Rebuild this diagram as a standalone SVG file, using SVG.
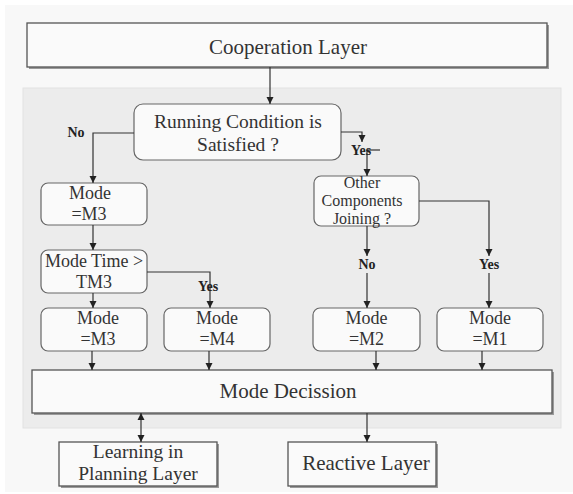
<svg xmlns="http://www.w3.org/2000/svg" width="573" height="494" viewBox="0 0 573 494">
<defs>
<marker id="ah" markerWidth="8" markerHeight="8" refX="7" refY="4" orient="auto" markerUnits="userSpaceOnUse">
<path d="M0,0.5 L7,4 L0,7.5 Z" fill="#222"/>
</marker>
<marker id="ahs" markerWidth="8" markerHeight="8" refX="7" refY="4" orient="auto-start-reverse" markerUnits="userSpaceOnUse">
<path d="M0,0.5 L7,4 L0,7.5 Z" fill="#222"/>
</marker>
</defs>
<style>
.bg{fill:#f8f8f8}
.panel{fill:#ececec;stroke:#e2e2e2;stroke-width:1}
.box{fill:#fafafa;stroke:#555;stroke-width:1.3}
.shadow{fill:#9a9a9a}
.rbox{fill:#fafafa;stroke:#666;stroke-width:1.2}
.t{font-family:"Liberation Serif","Tinos","Times New Roman",serif;fill:#333;text-anchor:middle}
.big{font-size:21px}
.big2{font-size:19.5px}
.mid{font-size:18px}
.sm{font-size:16px}
.lbl{font-family:"Liberation Serif","Tinos","Times New Roman",serif;font-weight:bold;font-size:14px;fill:#222;text-anchor:middle}
.c{fill:none;stroke:#333;stroke-width:1.2}
</style>
<rect width="573" height="494" fill="#ffffff"/>
<rect class="bg" x="5" y="5" width="568" height="487"/>
<rect class="panel" x="23" y="88" width="538" height="340"/>

<g id="cooperation">
<rect class="shadow" x="29" y="25" width="520" height="44"/>
<rect class="box" x="27" y="23" width="520" height="44"/>
<text class="t big" x="288" y="54">Cooperation Layer</text>
</g>

<g id="running">
<rect class="rbox" x="134" y="104" width="207" height="56" rx="9"/>
<text class="t big2" x="238" y="128">Running Condition is</text>
<text class="t big2" x="238" y="151">Satisfied ?</text>
</g>

<g id="mode-m3-top">
<rect class="rbox" x="41" y="183" width="106" height="42" rx="7"/>
<text class="t mid" x="90" y="199">Mode</text>
<text class="t mid" x="89" y="220">=M3</text>
</g>

<g id="mode-time">
<rect class="rbox" x="41" y="250" width="106" height="43" rx="7"/>
<text class="t mid" x="94" y="267">Mode Time &gt;</text>
<text class="t mid" x="94" y="288">TM3</text>
</g>

<g id="mode-m3">
<rect class="rbox" x="41" y="308" width="106" height="43" rx="7"/>
<text class="t mid" x="98" y="324">Mode</text>
<text class="t mid" x="98" y="345">=M3</text>
</g>

<g id="mode-m4">
<rect class="rbox" x="164" y="308" width="106" height="43" rx="7"/>
<text class="t mid" x="217" y="324">Mode</text>
<text class="t mid" x="217" y="345">=M4</text>
</g>

<g id="other">
<rect class="rbox" x="314" y="176" width="105" height="50" rx="7"/>
<text class="t sm" x="362" y="188">Other</text>
<text class="t sm" x="362" y="206">Components</text>
<text class="t sm" x="362" y="224">Joining ?</text>
</g>

<g id="mode-m2">
<rect class="rbox" x="313" y="308" width="107" height="43" rx="7"/>
<text class="t mid" x="366.5" y="324">Mode</text>
<text class="t mid" x="366.5" y="345">=M2</text>
</g>

<g id="mode-m1">
<rect class="rbox" x="437" y="308" width="106" height="43" rx="7"/>
<text class="t mid" x="490" y="324">Mode</text>
<text class="t mid" x="490" y="345">=M1</text>
</g>

<g id="mode-decision">
<rect class="shadow" x="34" y="372" width="520" height="43"/>
<rect class="box" x="32" y="370" width="520" height="43"/>
<text class="t big" x="288" y="398">Mode Decission</text>
</g>

<g id="learning">
<rect class="shadow" x="61" y="444" width="158" height="44"/>
<rect class="box" x="59" y="442" width="158" height="44"/>
<text class="t big2" x="138" y="458">Learning in</text>
<text class="t big2" x="138" y="480">Planning Layer</text>
</g>

<g id="reactive">
<rect class="shadow" x="290" y="444" width="148" height="44"/>
<rect class="box" x="288" y="442" width="148" height="44"/>
<text class="t big" x="366" y="470">Reactive Layer</text>
</g>

<g id="connectors">
<path class="c" d="M270,67 V104" marker-end="url(#ah)"/>
<path class="c" d="M134,133 H93 V183" marker-end="url(#ah)"/>
<path class="c" d="M341,132 H362 V142" marker-end="url(#ah)"/>
<path class="c" d="M367,150 H380"/>
<path class="c" d="M367,150 V176" marker-end="url(#ah)"/>
<path class="c" d="M367,226 V256" marker-end="url(#ah)"/>
<path class="c" d="M367,273 V308" marker-end="url(#ah)"/>
<path class="c" d="M419,201 H489 V256" marker-end="url(#ah)"/>
<path class="c" d="M489,273 V308" marker-end="url(#ah)"/>
<path class="c" d="M93,225 V250" marker-end="url(#ah)"/>
<path class="c" d="M93,293 V308" marker-end="url(#ah)"/>
<path class="c" d="M147,272 H210 V308" marker-end="url(#ah)"/>
<path class="c" d="M92,351 V370" marker-end="url(#ah)"/>
<path class="c" d="M209,351 V370" marker-end="url(#ah)"/>
<path class="c" d="M376,351 V370" marker-end="url(#ah)"/>
<path class="c" d="M482,351 V370" marker-end="url(#ah)"/>
<path class="c" d="M141,413 V442" marker-start="url(#ahs)" marker-end="url(#ah)"/>
<path class="c" d="M367,413 V442" marker-end="url(#ah)"/>
<text class="lbl" x="76" y="137">No</text>
<text class="lbl" x="361" y="155">Yes</text>
<text class="lbl" x="208" y="291">Yes</text>
<text class="lbl" x="367" y="269">No</text>
<text class="lbl" x="489" y="269">Yes</text>
</g>
</svg>
